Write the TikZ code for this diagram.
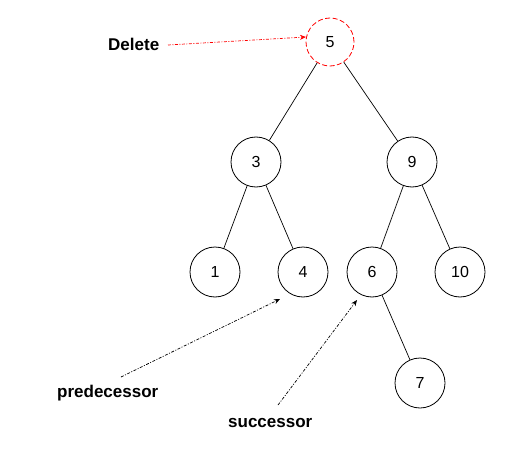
\documentclass[tikz,border=0pt]{standalone}
\usepackage{fontspec}
\setmainfont{Liberation Sans}
\usetikzlibrary{arrows.meta}
\begin{document}
\begin{tikzpicture}[x=1pt,y=-1pt,
  tn/.style={circle,draw=black,line width=0.8pt,minimum size=50pt,inner sep=0pt,font=\fontsize{16}{18}\selectfont},
  lbl/.style={font=\fontsize{17}{19}\selectfont\bfseries,inner sep=0pt},
  pt/.style={-{Stealth[length=6pt,width=5pt]},dash pattern=on 3pt off 1.5pt on 1pt off 1.5pt,line width=0.7pt}]
\useasboundingbox (0,0) rectangle (517,460);
\node[tn,draw=red,dash pattern=on 5pt off 2.5pt,minimum size=48pt] (n5) at (330,42) {5};
\node[tn] (n3) at (256,162) {3};
\node[tn] (n9) at (412,162) {9};
\node[tn] (n1) at (215,272) {1};
\node[tn] (n4) at (303,272) {4};
\node[tn] (n6) at (372,272) {6};
\node[tn] (n10) at (460,272) {10};
\node[tn] (n7) at (420,383) {7};
\draw[line width=0.7pt] (n5) -- (n3);
\draw[line width=0.7pt] (n5) -- (n9);
\draw[line width=0.7pt] (n3) -- (n1);
\draw[line width=0.7pt] (n3) -- (n4);
\draw[line width=0.7pt] (n9) -- (n6);
\draw[line width=0.7pt] (n9) -- (n10);
\draw[line width=0.7pt] (n6) -- (n7);
\node[lbl,anchor=west] (del) at (108,44) {Delete};
\node[lbl,anchor=west] (pred) at (57,393) {predecessor};
\node[lbl,anchor=west] (succ) at (228,423) {successor};
\coordinate (a1) at (168,45);
\coordinate (a1e) at (306,37);
\coordinate (a2) at (121,377);
\coordinate (a2e) at (280,299);
\coordinate (a3) at (278,405);
\coordinate (a3e) at (357,300);
\draw[pt,red] (a1) -- (a1e);
\draw[pt] (a2) -- (a2e);
\draw[pt] (a3) -- (a3e);
\end{tikzpicture}
\end{document}
